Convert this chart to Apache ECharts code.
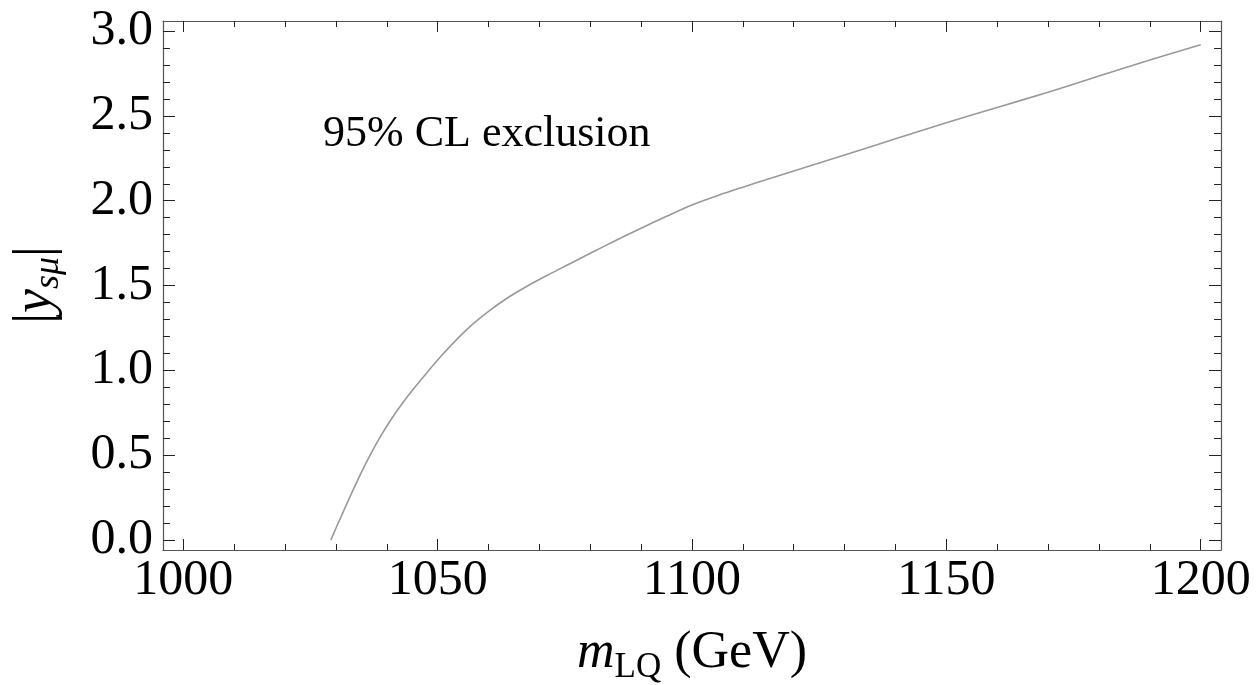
<!DOCTYPE html>
<html>
<head>
<meta charset="utf-8">
<script src="https://cdn.jsdelivr.net/npm/echarts@6/dist/echarts.min.js"></script>
<style>
  html, body { margin: 0; padding: 0; background: #fff; }
  #chart { width: 1256px; height: 685px; }
</style>
</head>
<body>
<div id="chart"></div>
<script>
// ── data ─────────────────────────────────────────────────────────────────────
const massGeV = [1029, 1031, 1033, 1035, 1037, 1039, 1041, 1043, 1045, 1048,
                 1051, 1054, 1057, 1060, 1064, 1068, 1072, 1076, 1080, 1085,
                 1090, 1095, 1100, 1105, 1110, 1115, 1120, 1130, 1140, 1150,
                 1160, 1170, 1180, 1190, 1200];
const coupling = [0, 0.136, 0.27, 0.398, 0.516, 0.622, 0.717, 0.803, 0.881, 0.99,
                  1.094, 1.19, 1.275, 1.348, 1.432, 1.503, 1.567, 1.628, 1.69, 1.765,
                  1.838, 1.908, 1.975, 2.03, 2.08, 2.128, 2.175, 2.27, 2.365, 2.46,
                  2.55, 2.64, 2.735, 2.83, 2.92];

const xMajor = [1000, 1050, 1100, 1150, 1200];
const xMinor = [1000, 1010, 1020, 1030, 1040, 1050, 1060, 1070, 1080, 1090, 1100,
                1110, 1120, 1130, 1140, 1150, 1160, 1170, 1180, 1190, 1200];
const yMajor = [0, 0.5, 1.0, 1.5, 2.0, 2.5, 3.0];
const yMinor = [0, 0.1, 0.2, 0.3, 0.4, 0.5, 0.6, 0.7, 0.8, 0.9, 1.0, 1.1, 1.2, 1.3, 1.4,
                1.5, 1.6, 1.7, 1.8, 1.9, 2.0, 2.1, 2.2, 2.3, 2.4, 2.5, 2.6, 2.7, 2.8, 2.9, 3.0];

const X_RANGE = [996, 1204];
const Y_RANGE = [-0.06, 3.06];

const FONT = 'Liberation Serif';
const FRAME = '#555';

// one axis per (side, tick size) so majors and minors get different lengths
function xAx(pos, ticks, len, withLabels, showLine) {
  return {
    type: 'value', position: pos, min: X_RANGE[0], max: X_RANGE[1],
    axisLine: { show: showLine, onZero: false, lineStyle: { color: FRAME, width: 1.2 } },
    axisTick: { show: true, inside: true, length: len, customValues: ticks,
                lineStyle: { color: '#222', width: 1 } },
    axisLabel: withLabels ? {
      show: true, customValues: ticks, margin: 6,
      fontFamily: FONT, fontSize: 50, color: '#000',
      formatter: v => String(v)
    } : { show: false },
    splitLine: { show: false }
  };
}
function yAx(pos, ticks, len, withLabels, showLine) {
  return {
    type: 'value', position: pos, min: Y_RANGE[0], max: Y_RANGE[1],
    axisLine: { show: showLine, onZero: false, lineStyle: { color: FRAME, width: 1.2 } },
    axisTick: { show: true, inside: true, length: len, customValues: ticks,
                lineStyle: { color: '#222', width: 1 } },
    axisLabel: withLabels ? {
      show: true, customValues: ticks, margin: 10,
      fontFamily: FONT, fontSize: 50, color: '#000',
      formatter: v => v.toFixed(1)
    } : { show: false },
    splitLine: { show: false }
  };
}

const chart = echarts.init(document.getElementById('chart'));
chart.setOption({
  animation: false,
  backgroundColor: '#fff',
  grid: { left: 163, right: 35, top: 21, bottom: 135, containLabel: false },
  xAxis: [
    xAx('bottom', xMajor, 11, true, true),
    xAx('bottom', xMinor, 6, false, false),
    xAx('top', xMajor, 11, false, true),
    xAx('top', xMinor, 6, false, false)
  ],
  yAxis: [
    yAx('left', yMajor, 12, true, true),
    yAx('left', yMinor, 7, false, false),
    yAx('right', yMajor, 12, false, true),
    yAx('right', yMinor, 7, false, false)
  ],
  series: [{
    type: 'line',
    xAxisIndex: 0, yAxisIndex: 0,
    data: massGeV.map((m, i) => [m, coupling[i]]),
    smooth: 0.35,
    showSymbol: false,
    lineStyle: { color: '#999', width: 1.6 }
  }],
  graphic: [
    {
      type: 'text', left: 323, top: 112,
      style: { text: '95% CL exclusion', font: '44px "Liberation Serif"', fill: '#000' }
    },
    {
      // x axis title: m_LQ (GeV)
      type: 'text', x: 692, y: 656,
      style: {
        text: '{i|m}{s|LQ}{n| (GeV)}',
        align: 'center', verticalAlign: 'middle',
        rich: {
          i: { fontFamily: FONT, fontStyle: 'italic', fontSize: 52, verticalAlign: 'top', lineHeight: 52 },
          s: { fontFamily: FONT, fontSize: 35, verticalAlign: 'top', padding: [23, 0, 0, 0] },
          n: { fontFamily: FONT, fontSize: 52, verticalAlign: 'top', lineHeight: 52 }
        }
      }
    },
    {
      // y axis title: |y_sμ|
      type: 'text', x: 38, y: 285, rotation: Math.PI / 2,
      style: {
        text: '{n||}{i|y}{s|sμ}{n||}',
        align: 'center', verticalAlign: 'middle',
        rich: {
          n: { fontFamily: FONT, fontSize: 54, verticalAlign: 'top', lineHeight: 54 },
          i: { fontFamily: FONT, fontStyle: 'italic', fontSize: 54, verticalAlign: 'top', lineHeight: 54 },
          s: { fontFamily: FONT, fontStyle: 'italic', fontSize: 36, verticalAlign: 'top', padding: [22, 0, 0, 0] }
        }
      }
    }
  ]
});
</script>
</body>
</html>
